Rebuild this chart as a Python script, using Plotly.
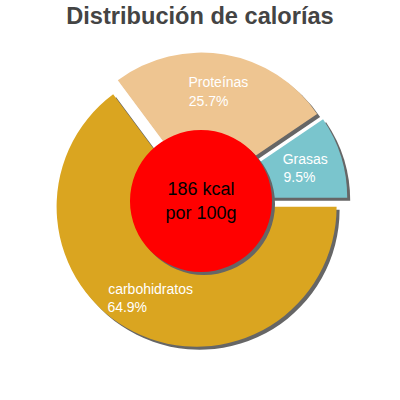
import plotly.graph_objects as go

# ---- data ----
title_text = "Distribución de calorías"
labels = ["carbohidratos", "Proteínas", "Grasas"]
values = [64.9, 25.7, 9.5]
colors = ["#DAA520", "#EEC591", "#7AC5CD"]
center_lines = ["186 kcal", "por 100g"]

# ---- style ----
FONT = "Liberation Sans, Arial, sans-serif"
LABEL_SIZE = 14
SHADOW = "#666666"
PULL = 0.054
OFF = 0.0075  # shadow offset (fraction of 400px)

# approximate Arial advance widths (em) to left-align the two label lines
W = {"a": .556, "b": .556, "c": .5, "d": .556, "e": .556, "g": .556, "h": .556,
     "i": .222, "í": .278, "l": .222, "n": .556, "o": .556, "p": .556, "r": .333,
     "s": .5, "t": .278, "G": .778, "P": .667, ".": .278, "%": .889}


def tw(s):
    return sum(W.get(ch, .556) for ch in s)


texts = []
for lab, val in zip(labels, values):
    pct = f"{val:.1f}%"
    n = max(0, round((tw(lab) - tw(pct)) / 0.278))
    texts.append(f"{lab}<br>{pct}" + "\u00a0" * n)

main_dom = dict(x=[0.1311, 0.8689], y=[0.1311, 0.8689])
shadow_dom = dict(x=[0.1311 + OFF, 0.8689 + OFF], y=[0.1311 - OFF, 0.8689 - OFF])
red_dom = dict(x=[0.325, 0.68], y=[0.32, 0.675])
red_shadow_dom = dict(x=[0.325 + OFF, 0.68 + OFF], y=[0.32 - OFF, 0.675 - OFF])
# label ring: same radius (140px) with larger text pulls
LABEL_PULL = [0.136, 0.136, 0.014]
label_dom = dict(x=[0.1025, 0.8975], y=[0.1025, 0.8975])

common = dict(labels=labels, values=values, sort=False, direction="clockwise",
              rotation=90, showlegend=False)

fig = go.Figure()
# shadow of slices
fig.add_trace(go.Pie(**common, domain=shadow_dom, pull=[PULL] * len(values),
                     marker=dict(colors=[SHADOW] * len(values), line=dict(width=0)),
                     textinfo="none", hoverinfo="skip"))
# slices
fig.add_trace(go.Pie(**common, domain=main_dom, pull=[PULL] * len(values),
                     marker=dict(colors=colors, line=dict(width=0)),
                     textinfo="none", hoverinfo="label+value"))
# red centre shadow
fig.add_trace(go.Pie(labels=["centro"], values=[1], domain=red_shadow_dom, sort=False,
                     marker=dict(colors=[SHADOW], line=dict(width=0)),
                     textinfo="none", hoverinfo="skip", showlegend=False))
# red centre
fig.add_trace(go.Pie(labels=["centro"], values=[1], domain=red_dom, sort=False,
                     marker=dict(colors=["#FF0000"], line=dict(width=0)),
                     text=["<br>".join(center_lines)], textinfo="text",
                     textposition="inside",
                     insidetextfont=dict(family=FONT, size=18, color="#000000"),
                     hoverinfo="skip", showlegend=False))
# labels on the ring (transparent)
fig.add_trace(go.Pie(**common, domain=label_dom, hole=0.3, pull=LABEL_PULL,
                     marker=dict(colors=["rgba(0,0,0,0)"] * len(values), line=dict(width=0)),
                     text=texts, textinfo="text", textposition="inside",
                     insidetextorientation="horizontal",
                     insidetextfont=dict(family=FONT, size=LABEL_SIZE, color="#FFFFFF"),
                     hoverinfo="skip"))

fig.update_layout(
    width=400, height=400,
    margin=dict(l=0, r=0, t=0, b=0),
    paper_bgcolor="white", plot_bgcolor="white",
    title=dict(text=f"<b>{title_text}</b>", x=0.5, xanchor="center",
               y=0.961, yanchor="middle",
               font=dict(family=FONT, size=23.6, color="#444444")),
)

fig.write_html("out.html", config={"displayModeBar": False},
               post_script="document.body.style.margin='0px';")
